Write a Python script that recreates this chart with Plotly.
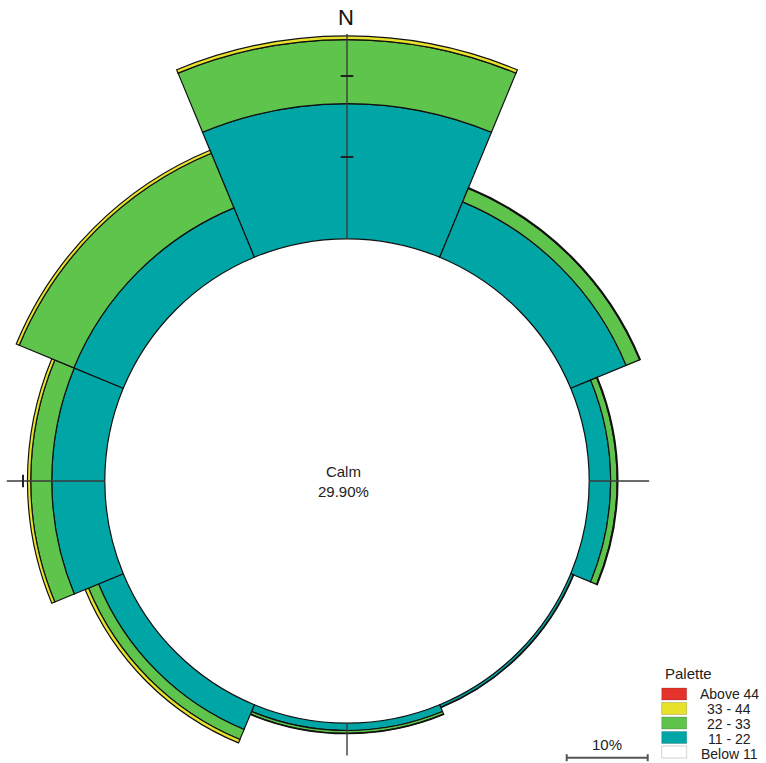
import math
import plotly.graph_objects as go

# ---- data -------------------------------------------------------------
directions = ["N", "NE", "E", "SE", "S", "SW", "W", "NW"]
bearings = [0, 45, 90, 135, 180, 225, 270, 315]
calm = 29.90

# frequency (%) of each wind-speed class per direction
band_11_22 = [16.7, 7.4, 2.65, 0.35, 0.9, 3.3, 6.55, 6.6]
band_22_33 = [7.9, 1.8, 0.8, 0.05, 0.35, 1.35, 2.6, 7.3]
band_33_44 = [0.45, 0.1, 0.1, 0.0, 0.05, 0.45, 0.4, 0.4]
band_above_44 = [0, 0, 0, 0, 0, 0, 0, 0]

palette_labels = ["Above 44", "33 - 44", "22 - 33", "11 - 22", "Below 11"]
palette_colors = ["#e4332a", "#e8e22a", "#5fc44c", "#00a6a6", "#ffffff"]

# cardinal reference lines: direction, outer end (%) and tick values (%)
axis_dirs = ["N", "E", "S", "W"]
axis_ends = [55.2, 37.3, 33.9, 42.0]
tick_values = [40, 50]
scale_bar_pct = 10

# ---- geometry -----------------------------------------------------------
W, H = 766, 763
CX, CY = 347.0, 481.0          # rose centre (px)
PX_PER_PCT = 8.1               # radial scale
HALF_SPAN = 24                 # half-width of each direction's subplot wedge


def px2x(px):
    return px / W


def px2y(py):
    return 1 - py / H


def wedge_bbox(a0, a1):
    """Bounding box of a unit wedge (apex at origin) between screen angles."""
    a0 = a0 % 360
    a1 = a0 + (a1 - a0 if a1 > a0 else a1 - a0 + 360)
    angs = [a0, a1] + [k for k in range(0, 721, 90) if a0 < k < a1]
    xs = [0.0] + [math.cos(math.radians(a)) for a in angs]
    ys = [0.0] + [math.sin(math.radians(a)) for a in angs]
    return min(xs), min(ys), max(xs), max(ys)


series = [
    (band_11_22, palette_colors[3]),
    (band_22_33, palette_colors[2]),
    (band_33_44, palette_colors[1]),
    (band_above_44, palette_colors[0]),
]

fig = go.Figure()
layout_polars = {}

for i, (name, b) in enumerate(zip(directions, bearings)):
    key = "polar" if i == 0 else f"polar{i + 1}"
    screen = 90 - b
    a0, a1 = screen - HALF_SPAN, screen + HALF_SPAN
    x0, y0, x1, y1 = wedge_bbox(a0, a1)
    # largest wedge radius that stays on the page
    lims = []
    if x0 < 0:
        lims.append(CX / -x0)
    if x1 > 0:
        lims.append((W - CX) / x1)
    if y1 > 0:
        lims.append(CY / y1)
    if y0 < 0:
        lims.append((H - CY) / -y0)
    R = min(lims) - 1.0

    left, right = CX + R * x0, CX + R * x1
    top, bottom = CY - R * y1, CY - R * y0
    layout_polars[key] = dict(
        domain=dict(x=[px2x(left), px2x(right)], y=[px2y(bottom), px2y(top)]),
        sector=[a0, a1],
        bgcolor="rgba(0,0,0,0)",
        barmode="overlay",
        hole=0,
        radialaxis=dict(range=[0, R / PX_PER_PCT], autorange=False, visible=False),
        angularaxis=dict(rotation=90, direction="clockwise", visible=False),
    )

    base = calm
    for vals, col in series:
        v = vals[i]
        fig.add_trace(go.Barpolar(
            r=[v], theta=[b], width=[45], base=[base], subplot=key,
            marker=dict(color=col, line=dict(color="#111111", width=1.2)),
            showlegend=False, hoverinfo="skip",
        ))
        base += v

    if name in axis_dirs:
        k = axis_dirs.index(name)
        end = axis_ends[k]
        fig.add_trace(go.Scatterpolar(
            r=[calm, end], theta=[b, b], mode="lines", subplot=key,
            line=dict(color="#3a3a3a", width=1.4),
            showlegend=False, hoverinfo="skip",
        ))
        ticks = [t for t in tick_values if t < end]
        if ticks:
            sym = "line-ew" if b % 180 == 0 else "line-ns"
            fig.add_trace(go.Scatterpolar(
                r=ticks, theta=[b] * len(ticks), mode="markers", subplot=key,
                marker=dict(symbol=sym, size=9, color="#222222",
                            line=dict(color="#222222", width=2)),
                showlegend=False, hoverinfo="skip",
            ))

FONT = "Liberation Sans, Arial, sans-serif"


def label(text, x, y, size=15, color="#222222"):
    return dict(text=text, x=px2x(x), y=px2y(y), xref="paper", yref="paper",
                xanchor="center", yanchor="middle", showarrow=False, borderpad=0,
                font=dict(size=size, color=color, family=FONT))


annotations = [
    label(directions[0], 346, 17.5, size=22, color="#111111"),
    label(f"Calm<br>{calm:.2f}%", 343.5, 481.7),
    label("Palette", 688, 673),
    label(f"{scale_bar_pct}%", 606.7, 744.5),
]

shapes = []
# palette swatches and labels
for j, (lab, col) in enumerate(zip(palette_labels, palette_colors)):
    top = 688 + j * 14.5
    shapes.append(dict(
        type="rect", xref="paper", yref="paper",
        x0=px2x(661.7), x1=px2x(686.7), y0=px2y(top + 12), y1=px2y(top),
        fillcolor=col, line=dict(color="rgba(0,0,0,0.18)", width=1),
    ))
    annotations.append(label(lab, 729, 694 + j * 15.0, size=14))

# scale bar
bar_l = 566.7
bar_r = bar_l + scale_bar_pct * PX_PER_PCT
bar_y = 757.7
bar_style = dict(color="#555555", width=2)
shapes += [
    dict(type="line", xref="paper", yref="paper", x0=px2x(bar_l), x1=px2x(bar_r),
         y0=px2y(bar_y), y1=px2y(bar_y), line=bar_style),
    dict(type="line", xref="paper", yref="paper", x0=px2x(bar_l), x1=px2x(bar_l),
         y0=px2y(bar_y - 3.5), y1=px2y(bar_y + 3.5), line=bar_style),
    dict(type="line", xref="paper", yref="paper", x0=px2x(bar_r), x1=px2x(bar_r),
         y0=px2y(bar_y - 3.5), y1=px2y(bar_y + 3.5), line=bar_style),
]

fig.update_layout(
    width=W, height=H,
    margin=dict(l=0, r=0, t=0, b=0, pad=0),
    paper_bgcolor="white",
    plot_bgcolor="white",
    showlegend=False,
    annotations=annotations,
    shapes=shapes,
    **layout_polars,
)

fig.write_html("out.html")
